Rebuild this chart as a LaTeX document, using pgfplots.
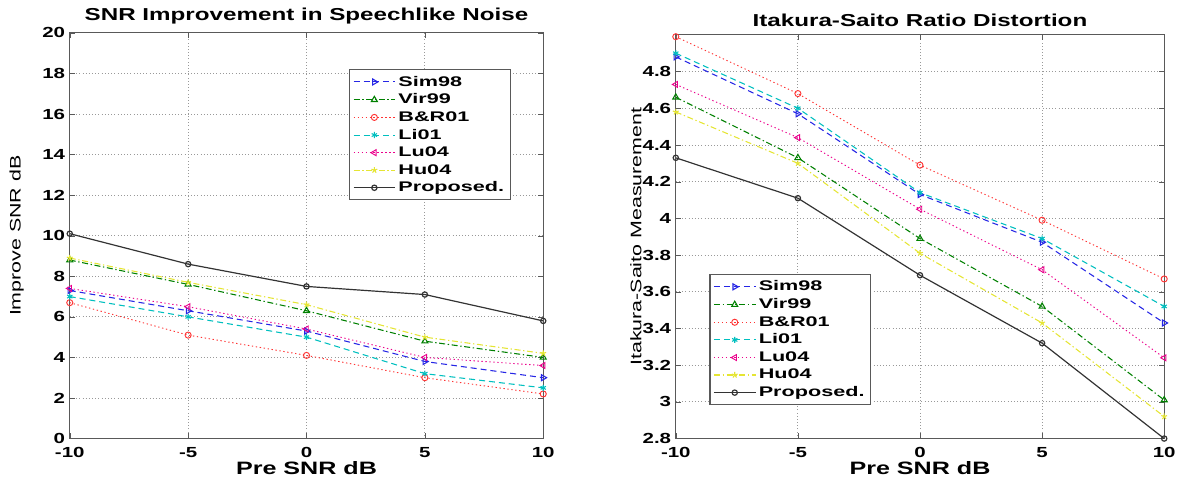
\documentclass[border=0pt]{standalone}
\usepackage{pgfplots}
\pgfplotsset{compat=1.18}
\usepackage{fontspec}
\setmainfont[FakeStretch=1.4]{Liberation Sans}
\newfontfamily\legfont[FakeStretch=1.55]{Liberation Sans}
\definecolor{mgreen}{rgb}{0,0.5,0}
\definecolor{mcyan}{rgb}{0,0.75,0.75}
\definecolor{myellow}{rgb}{0.9,0.9,0.2}
\definecolor{mblue}{rgb}{0.15,0.15,0.9}
\begin{document}
\begin{tikzpicture}
\path (0pt,0pt) rectangle (885pt,363pt);
\pgfplotsset{
  common/.style={
    scale only axis,
    axis line style={black!65, line width=0.9pt},
    xmin=-10,xmax=10,
    xtick={-10,-5,0,5,10},
    grid=major,
    grid style={black!40, dotted, line width=0.6pt},
    tick align=inside,
    major tick length=4pt,
    tick style={black!65},
    tick label style={font=\fontsize{11}{12}\selectfont\bfseries},
    xticklabel style={yshift=-3pt},
    /pgf/number format/assume math mode=true,
    title style={font=\fontsize{13}{15}\selectfont\bfseries, yshift=-3pt},
    xlabel style={font=\fontsize{13.5}{16}\selectfont\bfseries, yshift=4pt},
    xlabel={Pre SNR dB},
    legend cell align=left,
    legend style={font=\legfont\fontsize{10.5}{13}\selectfont\bfseries, draw=black!65, line width=0.8pt, row sep=0.3pt, inner sep=2.5pt},
    legend image code/.code={\draw[mark repeat=2,mark phase=2] plot coordinates {(0cm,0cm) (0.55cm,0cm) (1.1cm,0cm)};},
  },
  sim/.style={mblue, line width=0.8pt, dash pattern=on 4.5pt off 3pt, mark=triangle, mark size=2.6pt, mark options={rotate=-90, solid}},
  vir/.style={mgreen, line width=0.8pt, dash pattern=on 4.5pt off 2pt on 1pt off 2pt, mark=triangle, mark size=2.6pt, mark options={solid}},
  br/.style={red!80, line width=0.7pt, dash pattern=on 1pt off 2pt, mark=o, mark size=2.3pt, mark options={solid}},
  li/.style={mcyan, line width=0.8pt, dash pattern=on 4.5pt off 3pt, mark=asterisk, mark size=2.3pt, mark options={solid}},
  lu/.style={magenta, line width=0.7pt, dash pattern=on 1pt off 2pt, mark=triangle, mark size=2.6pt, mark options={rotate=90, solid}},
  hu/.style={myellow, line width=0.8pt, dash pattern=on 4.5pt off 2pt on 1pt off 2pt, mark=star, mark size=2.3pt, mark options={solid}},
  prop/.style={black!80, line width=0.9pt, solid, mark=o, mark size=2pt},
}
\begin{axis}[common,
  at={(52.5pt,33pt)}, anchor=south west,
  width=356.25pt, height=305.25pt,
  ymin=0, ymax=20, ytick={0,2,...,20},
  title={SNR Improvement in Speechlike Noise},
  ylabel={Improve SNR dB},
  ylabel style={font=\fontsize{11.5}{13}\selectfont, yshift=7pt},
  legend style={at={(0.59,0.91)}, anchor=north west},
]
\addplot[sim] coordinates {(-10,7.3) (-5,6.3) (0,5.3) (5,3.8) (10,3.0)};
\addplot[vir] coordinates {(-10,8.8) (-5,7.6) (0,6.3) (5,4.8) (10,4.0)};
\addplot[br] coordinates {(-10,6.7) (-5,5.1) (0,4.1) (5,3.0) (10,2.2)};
\addplot[li] coordinates {(-10,7.0) (-5,6.0) (0,5.0) (5,3.2) (10,2.5)};
\addplot[lu] coordinates {(-10,7.4) (-5,6.5) (0,5.4) (5,4.0) (10,3.6)};
\addplot[hu] coordinates {(-10,8.9) (-5,7.7) (0,6.6) (5,5.0) (10,4.2)};
\addplot[prop] coordinates {(-10,10.1) (-5,8.6) (0,7.5) (5,7.1) (10,5.8)};
\legend{Sim98,Vir99,B\&R01,Li01,Lu04,Hu04,Proposed.}
\end{axis}
\begin{axis}[common,
  at={(508.5pt,33pt)}, anchor=south west,
  width=367.5pt, height=303.75pt,
  ymin=2.8, ymax=5.0, ytick={2.8,3,3.2,3.4,3.6,3.8,4,4.2,4.4,4.6,4.8},
  title={Itakura-Saito Ratio Distortion},
  ylabel={Itakura-Saito Measurement},
  ylabel style={font=\fontsize{11.5}{13}\selectfont, yshift=-6pt},
  legend style={at={(0.069,0.407)}, anchor=north west},
]
\addplot[sim] coordinates {(-10,4.88) (-5,4.57) (0,4.13) (5,3.87) (10,3.43)};
\addplot[vir] coordinates {(-10,4.66) (-5,4.33) (0,3.89) (5,3.52) (10,3.01)};
\addplot[br] coordinates {(-10,4.99) (-5,4.68) (0,4.29) (5,3.99) (10,3.67)};
\addplot[li] coordinates {(-10,4.90) (-5,4.60) (0,4.14) (5,3.89) (10,3.52)};
\addplot[lu] coordinates {(-10,4.73) (-5,4.44) (0,4.05) (5,3.72) (10,3.24)};
\addplot[hu] coordinates {(-10,4.58) (-5,4.30) (0,3.81) (5,3.43) (10,2.92)};
\addplot[prop] coordinates {(-10,4.33) (-5,4.11) (0,3.69) (5,3.32) (10,2.80)};
\legend{Sim98,Vir99,B\&R01,Li01,Lu04,Hu04,Proposed.}
\end{axis}
\end{tikzpicture}
\end{document}
